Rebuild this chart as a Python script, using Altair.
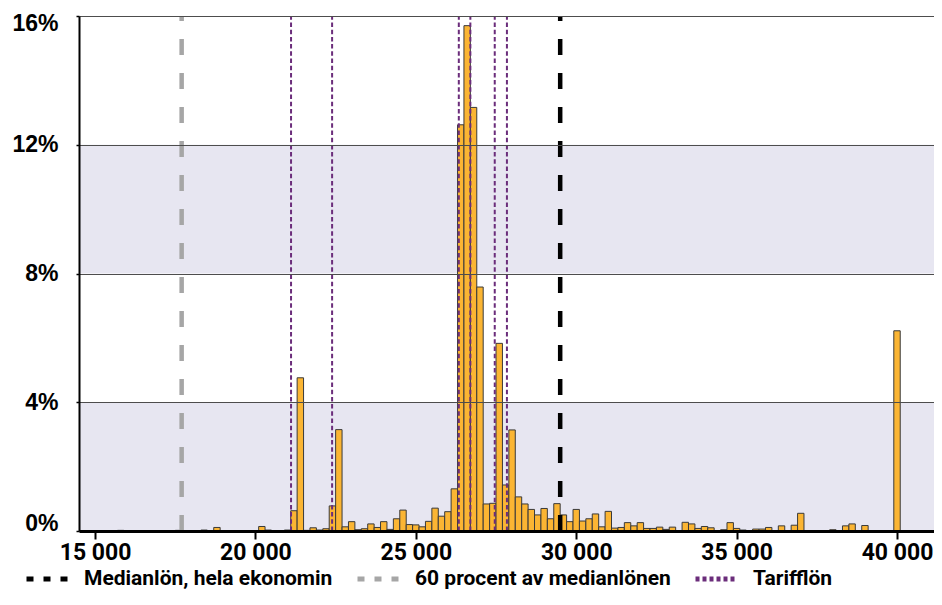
import altair as alt
import pandas as pd

# ---------------- data ----------------
BIN_WIDTH = 200  # kronor per histogram bin

bin_centers = [
    15800, 17600, 18400, 18800, 20200, 20400, 21000, 21200, 21400, 21600,
    21800, 22000, 22200, 22400, 22600, 22800, 23000, 23200, 23400, 23600,
    23800, 24000, 24200, 24400, 24600, 24800, 25000, 25200, 25400, 25600,
    25800, 26000, 26200, 26400, 26600, 26800, 27000, 27200, 27400, 27600,
    27800, 28000, 28200, 28400, 28600, 28800, 29000, 29200, 29400, 29600,
    29800, 30000, 30200, 30400, 30600, 30800, 31000, 31200, 31400, 31600,
    31800, 32000, 32200, 32400, 32600, 32800, 33000, 33200, 33400, 33600,
    33800, 34000, 34200, 34400, 34600, 34800, 35000, 35200, 35600, 35800,
    36000, 36400, 36800, 37000, 37200, 37400, 37600, 38000, 38200, 38400,
    38600, 38800, 39000, 39400, 39600, 40000,
]
shares = [
    0.02, 0.02, 0.03, 0.11, 0.14, 0.03, 0.03, 0.63, 4.76, 0.02,
    0.10, 0.03, 0.07, 0.78, 3.15, 0.13, 0.29, 0.04, 0.07, 0.22,
    0.11, 0.29, 0.05, 0.38, 0.65, 0.20, 0.19, 0.13, 0.30, 0.71,
    0.46, 0.60, 1.31, 12.62, 15.70, 13.16, 7.58, 0.84, 0.86, 5.83,
    1.43, 3.14, 1.06, 0.84, 0.67, 0.50, 0.70, 0.38, 0.85, 0.50,
    0.29, 0.67, 0.31, 0.38, 0.53, 0.13, 0.61, 0.09, 0.11, 0.26,
    0.16, 0.26, 0.08, 0.08, 0.12, 0.05, 0.12, 0.01, 0.27, 0.22,
    0.08, 0.14, 0.10, 0.01, 0.04, 0.26, 0.08, 0.03, 0.06, 0.06,
    0.11, 0.16, 0.18, 0.55, 0.01, 0.01, 0.01, 0.04, 0.01, 0.16,
    0.22, 0.01, 0.17, 0.01, 0.01, 6.22,
]

median_wage = [29500]
poverty_line = [17700]          # 60 procent av medianlönen
tariff_wages = [21110, 22390, 26340, 26700, 27460, 27840]

series_names = ["Medianlön, hela ekonomin", "60 procent av medianlönen", "Tarifflön"]
series_colors = ["#000000", "#A6A6A6", "#6B2D7B"]

x_ticks = [15000, 20000, 25000, 30000, 35000, 40000]
y_ticks = [0, 4, 8, 12, 16]
band_lo = [0, 8]
band_hi = [4, 12]

# ---------------- styling ----------------
W, H = 855, 515
X_DOMAIN = [14500, 41153]
Y_DOMAIN = [0, 16]
NARROW = "Roboto, Liberation Sans, sans-serif"
WIDE = "Liberation Sans, Arial, Helvetica, sans-serif"
BAR_FILL = "#FBB533"
BAR_STROKE = "#3A3A3A"
BAND = "#E7E6F1"

bars_df = pd.DataFrame({"center": bin_centers, "share": shares})
bars_df["start"] = bars_df["center"] - BIN_WIDTH / 2
bars_df["end"] = bars_df["center"] + BIN_WIDTH / 2

bands_df = pd.DataFrame({"lo": band_lo, "hi": band_hi})

rules_df = pd.DataFrame(
    {
        "value": median_wage + poverty_line + tariff_wages,
        "series": [series_names[0]] * len(median_wage)
        + [series_names[1]] * len(poverty_line)
        + [series_names[2]] * len(tariff_wages),
    }
)

x_scale = alt.Scale(domain=X_DOMAIN, nice=False, zero=False)
y_scale = alt.Scale(domain=Y_DOMAIN, nice=False)

x_axis = alt.Axis(
    values=x_ticks,
    labelExpr="replace(format(datum.value, ','), ',', ' ')",
    title=None,
    grid=False,
    domainColor="#000000",
    domainWidth=3,
    tickColor="#000000",
    tickWidth=2,
    tickSize=8,
    labelFont=NARROW,
    labelFontSize=23,
    labelFontWeight="bold",
    labelColor="#000000",
    labelPadding=2,
    labelFlush=False,
    labelOverlap=False,
    zindex=1,
)
y_axis = alt.Axis(
    values=y_ticks,
    labelExpr="datum.value + '%'",
    title=None,
    grid=True,
    gridColor="#4D4D4D",
    gridWidth=1,
    domainColor="#000000",
    domainWidth=2,
    tickColor="#000000",
    tickWidth=1.5,
    tickSize=3,
    labelFont=WIDE,
    labelFontSize=23,
    labelFontWeight="bold",
    labelColor="#000000",
    labelPadding=18,
    labelFlush=True,
    labelFlushOffset=4,
    zindex=1,
)

bands = alt.Chart(bands_df).mark_rect(color=BAND).encode(
    y=alt.Y("lo:Q", scale=y_scale, title=None),
    y2="hi:Q",
)

bars = alt.Chart(bars_df).mark_rect(
    fill=BAR_FILL, stroke=BAR_STROKE, strokeWidth=1
).encode(
    x=alt.X("start:Q", scale=x_scale, axis=x_axis),
    x2="end:Q",
    y=alt.Y("share:Q", scale=y_scale, axis=y_axis),
    y2=alt.datum(0),
)

rule_styles = {
    series_names[0]: dict(color=series_colors[0], strokeDash=[16, 18], strokeWidth=4.5),
    series_names[1]: dict(color=series_colors[1], strokeDash=[16, 18], strokeWidth=4.5),
    series_names[2]: dict(color=series_colors[2], strokeDash=[4.5, 2.7], strokeWidth=2),
}

rule_layers = []
for name in series_names:
    rule_layers.append(
        alt.Chart(rules_df)
        .transform_filter(alt.datum.series == name)
        .mark_rule(strokeCap="butt", **rule_styles[name])
        .encode(
            x=alt.X("value:Q", scale=x_scale, title=None),
            y=alt.datum(0),
            y2=alt.datum(16),
        )
    )

legend_props = dict(
    title=None,
    orient="none",
    legendX=-55,
    legendY=540,
    direction="horizontal",
    symbolType="stroke",
    symbolSize=1681,
    symbolStrokeWidth=5,
    labelFont=NARROW,
    labelFontSize=21,
    labelFontWeight="bold",
    labelColor="#000000",
    labelOffset=14,
    labelLimit=500,
    columnPadding=14,
)

legend_layer = alt.Chart(rules_df).mark_rule(strokeCap="butt").encode(
    x=alt.X("value:Q", scale=x_scale, title=None),
    y=alt.datum(0),
    y2=alt.datum(0),
    color=alt.Color(
        "series:N",
        scale=alt.Scale(domain=series_names, range=series_colors),
        legend=alt.Legend(**legend_props),
    ),
    strokeDash=alt.StrokeDash(
        "series:N",
        scale=alt.Scale(domain=series_names, range=[[7, 10], [7, 10], [4, 3]]),
        legend=alt.Legend(**legend_props),
    ),
)

chart = (
    alt.layer(bands, bars, *rule_layers, legend_layer)
    .properties(
        width=W,
        height=H,
        autosize=alt.AutoSizeParams(type="none"),
        padding={"left": 71, "top": 8, "right": 0, "bottom": 59},
        background="#FFFFFF",
    )
    .configure_view(stroke=None)
)

chart.save("out.html", embed_options={"renderer": "svg", "actions": False})
